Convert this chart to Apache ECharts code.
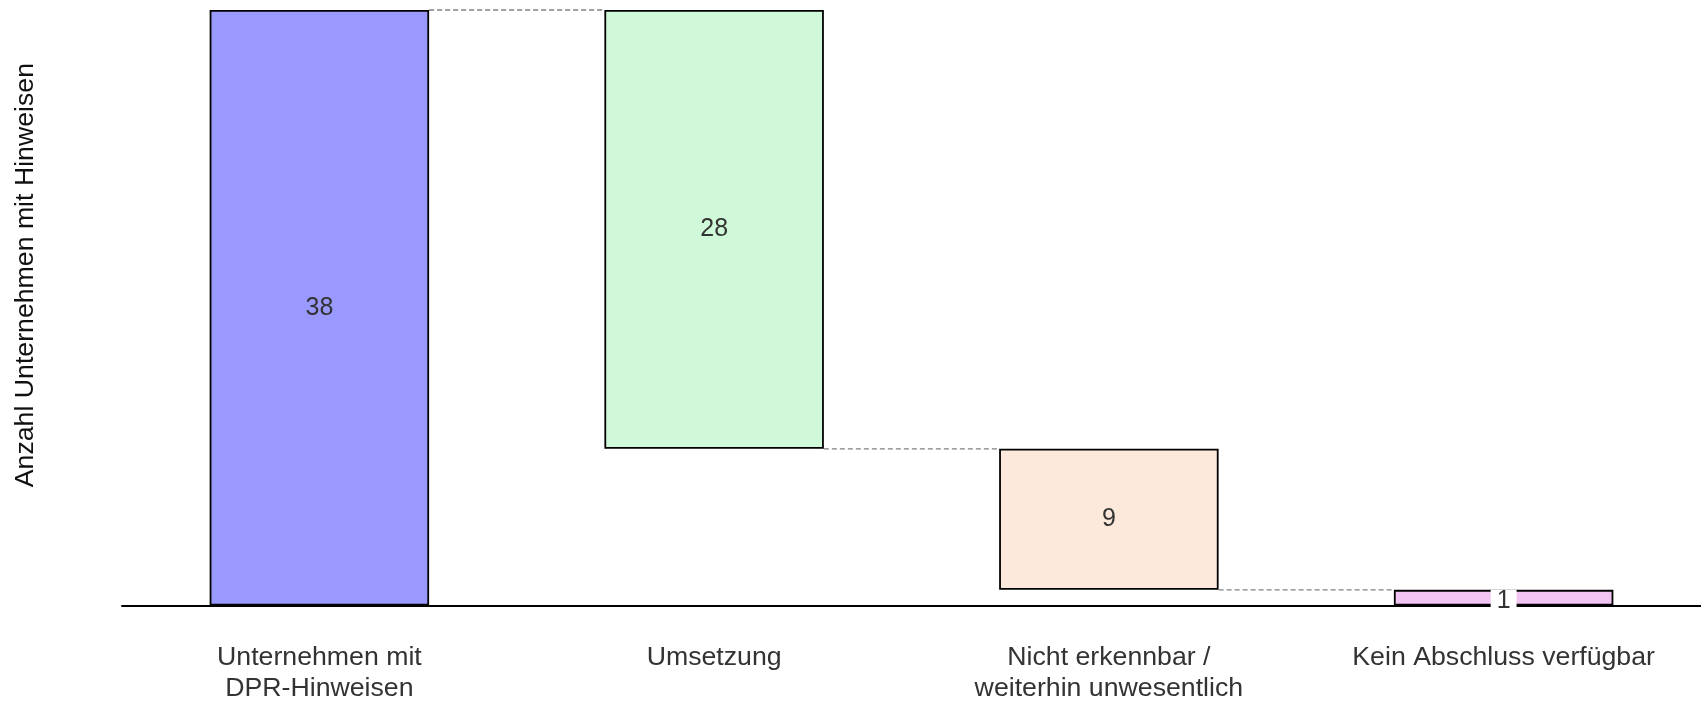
<!DOCTYPE html>
<html>
<head>
<meta charset="utf-8">
<script src="https://cdn.jsdelivr.net/npm/echarts@6/dist/echarts.min.js"></script>
<style>
  html, body { margin: 0; padding: 0; background: #fff; }
  #chart { width: 1701px; height: 704px; }
</style>
</head>
<body>
<div id="chart"></div>
<script>
const categories = ['Unternehmen mit\nDPR-Hinweisen', 'Umsetzung', 'Nicht erkennbar /\nweiterhin unwesentlich', 'Kein Abschluss verfügbar']
const values = [38, 28, 9, 1]
const barColors = ['#9999ff', '#cff9d8', '#fde9db', '#f2c4f2']

// waterfall: first bar is the total, the rest step down from it
const base = []
const levels = []
let running = values[0]
values.forEach((v, i) => {
  if (i === 0) {
    base.push(0)
    levels.push(values[0])
  } else {
    running = running - v
    base.push(running)
    levels.push(running)
  }
})

const BAR_RATIO = 0.556
const font = "'Liberation Sans', Arial, sans-serif"

const chart = echarts.init(document.getElementById('chart'))
const option = {
  animation: false,
  textStyle: { fontFamily: font },
  grid: { left: 122, right: -3, top: 10, bottom: 96.5 },
  xAxis: {
    type: 'category',
    data: categories,
    axisLine: { lineStyle: { color: '#000', width: 2 } },
    axisTick: { show: false },
    axisLabel: {
      interval: 0,
      fontSize: 26.7,
      lineHeight: 31,
      color: '#333',
      margin: 36.5,
      fontFamily: font
    },
    splitLine: { show: false }
  },
  yAxis: {
    type: 'value',
    min: 0,
    max: 38,
    show: false
  },
  graphic: [{
    type: 'text',
    left: 12,
    top: 63,
    rotation: Math.PI / 2,
    style: {
      text: 'Anzahl Unternehmen mit Hinweisen',
      fontSize: 26.7,
      fill: '#111',
      fontFamily: font
    }
  }],
  series: [
    {
      type: 'bar',
      stack: 'w',
      barWidth: (BAR_RATIO * 100) + '%',
      itemStyle: { color: 'transparent', borderWidth: 0 },
      silent: true,
      data: base
    },
    {
      type: 'bar',
      stack: 'w',
      barWidth: (BAR_RATIO * 100) + '%',
      data: values.map((v, i) => ({
        value: v,
        itemStyle: { color: barColors[i], borderColor: '#000', borderWidth: 1.8 },
        label: i === values.length - 1
          ? { backgroundColor: '#fff', padding: [0, 6], lineHeight: 22, offset: [0, 3] }
          : {}
      })),
      label: {
        show: true,
        position: 'inside',
        fontSize: 25,
        color: '#333',
        fontFamily: font
      },
      z: 3
    },
    {
      type: 'custom',
      silent: true,
      z: 1,
      data: levels.slice(0, -1).map((lv, i) => [i, lv]),
      renderItem: (params, api) => {
        const i = api.value(0)
        const lv = api.value(1)
        const p0 = api.coord([i, lv])
        const p1 = api.coord([i + 1, lv])
        const half = api.size([1, 0])[0] * BAR_RATIO / 2
        return {
          type: 'line',
          shape: { x1: p0[0] + half, y1: p0[1], x2: p1[0] - half, y2: p1[1] },
          style: { stroke: '#808080', lineWidth: 1.3, lineDash: [5, 3] }
        }
      }
    }
  ]
}
chart.setOption(option)
</script>
</body>
</html>
